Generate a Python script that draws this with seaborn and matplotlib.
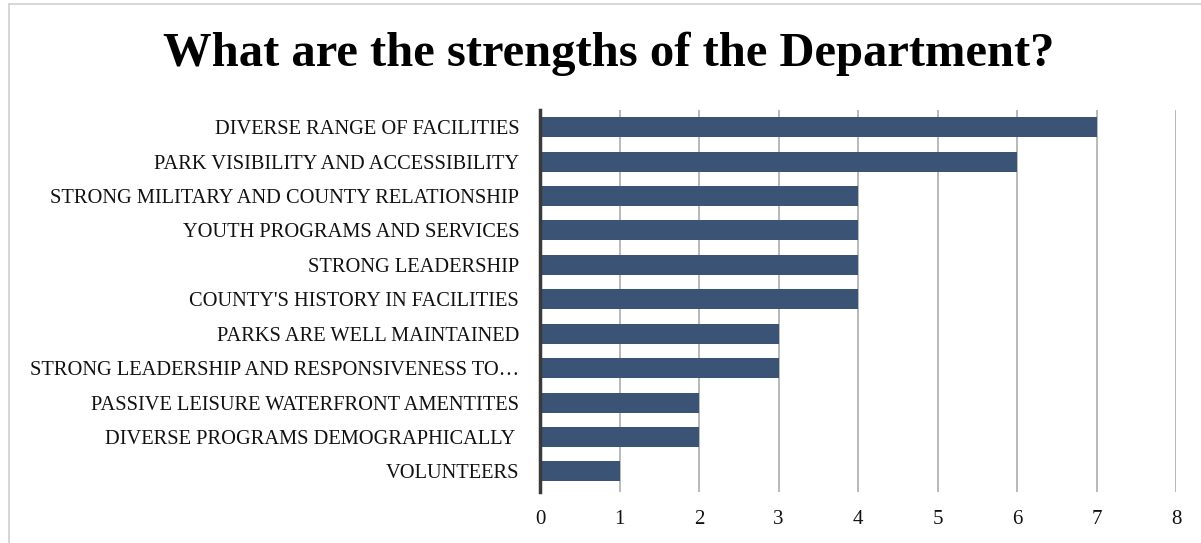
import matplotlib
matplotlib.use("Agg")
import matplotlib.pyplot as plt
import seaborn as sns
import pandas as pd
from matplotlib.lines import Line2D

categories = [
    "DIVERSE RANGE OF FACILITIES",
    "PARK VISIBILITY AND ACCESSIBILITY",
    "STRONG MILITARY AND COUNTY RELATIONSHIP",
    "YOUTH PROGRAMS AND SERVICES",
    "STRONG LEADERSHIP",
    "COUNTY'S HISTORY IN FACILITIES",
    "PARKS ARE WELL MAINTAINED",
    "STRONG LEADERSHIP AND RESPONSIVENESS TO\u2026",
    "PASSIVE LEISURE WATERFRONT AMENTITES",
    "DIVERSE PROGRAMS DEMOGRAPHICALLY ",
    "VOLUNTEERS",
]
values = [7, 6, 4, 4, 4, 4, 3, 3, 2, 2, 1]
x_ticks = [0, 1, 2, 3, 4, 5, 6, 7, 8]
title = "What are the strengths of the Department?"

sns.set_theme(style="white")
plt.rcParams["font.family"] = ["Liberation Serif", "DejaVu Serif"]

df = pd.DataFrame({"category": categories, "value": values})

W, H = 1201, 543
fig = plt.figure(figsize=(W / 100, H / 100), dpi=100)
ax = fig.add_axes([540 / W, 1 - 492 / H, (1176 - 540) / W, (492 - 110) / H])

sns.barplot(data=df, x="value", y="category", orient="h", color="#3B5374",
            saturation=1, width=0.58, ax=ax, zorder=3, edgecolor="none",
            linewidth=0)

ax.set_xlim(0, 8)
ax.set_ylim(10.6, -0.5)
ax.set_xticks(x_ticks)
ax.set_xticklabels([str(t) for t in x_ticks], fontsize=15)
ax.tick_params(axis="x", length=0, pad=13)
ax.tick_params(axis="y", length=0, pad=15, labelsize=14.7)
ax.set_xlabel("")
ax.set_ylabel("")
for lbl in ax.get_yticklabels() + ax.get_xticklabels():
    lbl.set_color("#111111")

ax.grid(axis="x", color="#a6a6a6", linewidth=1.1, zorder=0)
ax.grid(axis="y", visible=False)
for s in ["top", "right", "bottom"]:
    ax.spines[s].set_visible(False)
ax.spines["left"].set_color("#3a3a3a")
ax.spines["left"].set_linewidth(2.5)
ax.spines["left"].set_zorder(4)

fig.text(0.507, 1 - 54 / H, title, ha="center", va="center",
         fontsize=35, fontweight="bold", color="black")

# light frame lines
fig.add_artist(Line2D([9 / W, 9 / W], [0, 1 - 4 / H], color="#cfcfcf", linewidth=1.2))
fig.add_artist(Line2D([9 / W, 1], [1 - 4 / H, 1 - 4 / H], color="#cfcfcf", linewidth=1.2))

fig.savefig("out.png", dpi=100)
